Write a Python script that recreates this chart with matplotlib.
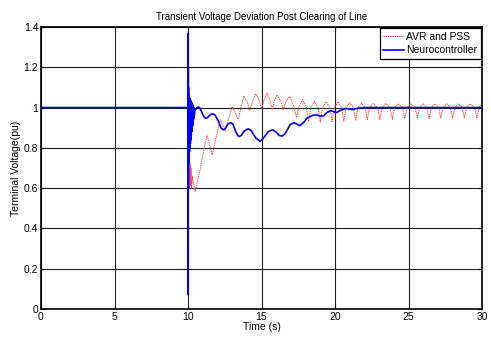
import matplotlib
matplotlib.use("Agg")
import matplotlib.pyplot as plt

# AVR and PSS response
red_t = [0.0, 10.0, 10.005, 10.02, 10.04, 10.06, 10.08, 10.10, 10.12, 10.15, 10.18,
         10.21, 10.25, 10.30, 10.48, 10.82, 11.16, 11.30, 11.65, 12.18, 12.52,
         13.0, 13.2, 13.42, 13.6, 13.8, 14.02, 14.2, 14.38, 14.6, 14.82, 15.0, 15.18,
         15.38, 15.56, 15.72, 15.88, 16.05, 16.3, 16.48, 16.66, 16.92,
         17.23, 17.38, 17.53, 17.78, 18.05, 18.20, 18.35, 18.60, 18.85, 19.00, 19.15,
         19.40, 19.65, 19.80, 19.95, 20.20, 20.45, 20.60, 20.75, 21.00, 21.25, 21.40,
         21.55, 21.80, 22.05, 22.20, 22.35, 22.60, 22.90, 23.05, 23.20, 23.45, 23.75,
         23.90, 24.05, 24.30, 24.60, 24.75, 24.90, 25.15, 25.45, 25.60, 25.75, 26.00,
         26.25, 26.40, 26.55, 26.80, 27.05, 27.20, 27.35, 27.60, 27.85, 28.00, 28.15,
         28.40, 28.65, 28.80, 28.95, 29.20, 29.50, 29.65, 29.80, 30.0]
red_v = [1.0, 1.0, 0.56, 0.78, 0.62, 0.76, 0.60, 0.74, 0.62, 0.72, 0.61,
         0.70, 0.60, 0.66, 0.583, 0.69, 0.823, 0.860, 0.765, 0.940, 0.885,
         1.004, 0.975, 0.942, 1.0, 1.058, 1.03, 0.985, 1.03, 1.068, 1.04, 0.995, 1.04,
         1.072, 1.04, 0.990, 1.035, 1.063, 1.035, 0.990, 1.03, 1.055,
         1.0, 0.950, 1.0, 1.040, 1.0, 0.930, 1.0, 1.030, 1.0, 0.928, 1.0,
         1.030, 1.0, 0.930, 1.0, 1.030, 1.0, 0.932, 1.0, 1.025, 1.0, 0.935,
         1.0, 1.022, 1.0, 0.940, 1.0, 1.020, 1.0, 0.940, 1.0, 1.020, 1.0,
         0.942, 1.0, 1.018, 1.0, 0.945, 1.0, 1.018, 1.0, 0.945, 1.0, 1.018,
         1.0, 0.945, 1.0, 1.018, 1.0, 0.947, 1.0, 1.018, 1.0, 0.947, 1.0,
         1.018, 1.0, 0.947, 1.0, 1.018, 1.0, 0.948, 1.0, 1.018]

# Neurocontroller response
blue_t = [0.0, 10.0, 10.003, 10.008, 10.013, 10.018, 10.025, 10.03, 10.04, 10.055,
          10.07, 10.085, 10.10, 10.115, 10.13, 10.145, 10.16, 10.175, 10.19, 10.205,
          10.22, 10.235, 10.25, 10.265, 10.28, 10.295, 10.31, 10.325, 10.34, 10.355,
          10.37, 10.385, 10.40, 10.415, 10.43, 10.45, 10.55, 10.62, 10.70, 10.80,
          10.95, 11.08, 11.20, 11.32, 11.45, 11.60, 11.72, 11.85, 12.05, 12.25,
          12.40, 12.55, 12.72, 12.90, 13.05, 13.25, 13.40, 13.50, 13.62, 13.85,
          14.10, 14.30, 14.60, 14.90, 15.10, 15.45, 15.75, 16.00, 16.20, 16.40,
          16.60, 16.95, 17.20, 17.40, 17.60, 17.85, 18.10, 18.30, 18.50, 18.75,
          19.00, 19.20, 19.45, 19.70, 19.90, 20.10, 20.35, 20.70, 21.00, 21.20,
          21.60, 22.00, 30.0]
blue_v = [1.0, 1.0, 0.07, 1.37, 0.30, 1.20, 0.60, 1.10, 0.72, 1.06,
          0.75, 1.05, 0.78, 1.045, 0.80, 1.04, 0.82, 1.035, 0.84, 1.03,
          0.86, 1.025, 0.88, 1.02, 0.895, 1.015, 0.91, 1.01, 0.925, 1.005,
          0.94, 1.0, 0.95, 0.995, 0.96, 0.985, 0.993, 1.0, 1.003, 0.998,
          0.975, 0.955, 0.947, 0.950, 0.960, 0.968, 0.968, 0.962, 0.935, 0.898,
          0.889, 0.897, 0.918, 0.925, 0.918, 0.880, 0.860, 0.856, 0.862, 0.885,
          0.895, 0.885, 0.850, 0.833, 0.845, 0.880, 0.890, 0.878, 0.862, 0.858,
          0.870, 0.915, 0.925, 0.918, 0.910, 0.925, 0.948, 0.955, 0.962, 0.963,
          0.958, 0.958, 0.975, 0.985, 0.980, 0.975, 0.985, 0.995, 0.993, 0.990,
          0.997, 1.0, 1.0]

plt.rcParams['font.family'] = ['Liberation Sans', 'DejaVu Sans']

fig = plt.figure(figsize=(4.91, 3.40), dpi=100)
ax = fig.add_axes([0.0835, 0.0912, 0.8982, 0.8294])

ax.plot(red_t, red_v, color='#ff4a4a', ls=(0, (1.5, 0.8)), lw=0.7, label='AVR and PSS')
ax.plot(blue_t, blue_v, color='#0000ff', lw=1.2, label='Neurocontroller')

ax.set_xlim(0, 30)
ax.set_ylim(0, 1.4)
ax.set_xticks([0, 5, 10, 15, 20, 25, 30])
ax.set_yticks([0, 0.2, 0.4, 0.6, 0.8, 1.0, 1.2, 1.4])
ax.set_yticklabels(['0', '0.2', '0.4', '0.6', '0.8', '1', '1.2', '1.4'])
ax.tick_params(direction='in', length=3, labelsize=7.5, top=True, right=True, pad=2)
ax.grid(True, color='#202020', lw=0.8)
for s in ax.spines.values():
    s.set_linewidth(1.2)

ax.set_title('Transient Voltage Deviation Post Clearing of Line', fontsize=7, pad=5)
ax.set_xlabel('Time (s)', fontsize=7.5, labelpad=0)
ax.set_ylabel('Terminal Voltage(pu)', fontsize=7.5, labelpad=2)

leg = ax.legend(loc='upper right', fontsize=7.5, fancybox=False, framealpha=1,
                edgecolor='black', borderpad=0.35, handlelength=2.0,
                handletextpad=0.2, labelspacing=0.35, borderaxespad=0.1)
leg.get_frame().set_linewidth(0.9)

fig.savefig('out.png', dpi=100)
